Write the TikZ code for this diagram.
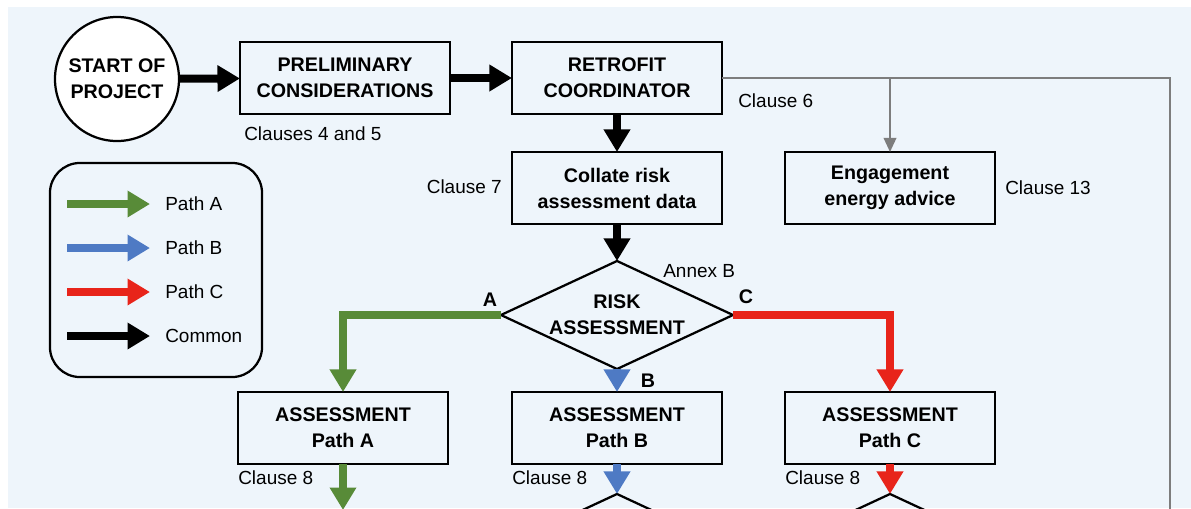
\documentclass[tikz,border=0pt]{standalone}
\usepackage{fontspec}
\setmainfont{Liberation Sans}
\usetikzlibrary{calc, arrows.meta, shapes.geometric}

\definecolor{panelblue}{RGB}{238,245,251}
\definecolor{pathgreen}{RGB}{88,139,56}
\definecolor{pathblue}{RGB}{78,122,196}
\definecolor{pathred}{RGB}{232,36,26}
\definecolor{linkgray}{RGB}{125,125,125}

\tikzset{
  stage/.style={draw, line width=1.6pt, minimum width=5.25cm, minimum height=1.8cm,
    align=center, inner sep=0pt, outer sep=0pt, font=\fontsize{14}{18.5}\selectfont\bfseries},
  decision/.style={diamond, aspect=2.15, draw, line width=1.6pt, minimum width=5.8cm, minimum height=2.7cm,
    align=center, inner sep=0pt, outer sep=0pt, font=\fontsize{14}{18.5}\selectfont\bfseries},
  note/.style={inner sep=0pt, font=\fontsize{13.5}{16}\selectfont},
  branch/.style={inner sep=0pt, font=\fontsize{14}{16}\selectfont\bfseries},
  flow/.style={line width=5.7pt, -{Triangle[width=18pt,length=16pt]}},
  link/.style={draw=linkgray, line width=1.1pt},
}

\begin{document}
\begin{tikzpicture}[x=0.025cm, y=-0.025cm]
  \useasboundingbox (0,0) rectangle (1191,508);
  \clip (0,0) rectangle (1191,508);
  \fill[panelblue] (8,7) rectangle (1191,508);

  % top row
  \node[circle, draw, line width=1.6pt, fill=white, minimum size=3.1cm, inner sep=0pt,
    outer sep=0pt, align=center, font=\fontsize{14}{18.5}\selectfont\bfseries]
    (start) at (117,79) {START OF\\PROJECT};
  \node[stage] (prelim) at (345,78) {PRELIMINARY\\CONSIDERATIONS};
  \node[stage] (retro) at (617,78) {RETROFIT\\COORDINATOR};
  \node[stage] (collate) at (617,188) {Collate risk\\assessment data};
  \node[stage] (engage) at (890,188) {Engagement\\energy advice};
  \node[decision] (risk) at (617,315) {RISK\\ASSESSMENT};

  % assessment boxes and the next diamonds
  \foreach \p/\x in {A/343, B/617, C/890}{
    \node[stage] (as\p) at (\x,428) {ASSESSMENT\\Path \p};
    \node[note, anchor=west] (cl8\p) at (\x-105,478) {Clause 8};
  }
  \node[decision] (riskB) at (617,548) {};
  \node[decision] (riskC) at (890,548) {};
  \coordinate (endA) at (343,510);

  % clause notes
  \node[note, anchor=west] (cl45) at (244,134) {Clauses 4 and 5};
  \node[note, anchor=west] (cl6) at (738,101) {Clause 6};
  \node[note, anchor=east] (cl7) at (502,187) {Clause 7};
  \node[note, anchor=west] (cl13) at (1005,188) {Clause 13};
  \node[note, anchor=west] (annex) at (663,271) {Annex B};
  \node[branch] (brA) at (490,300) {A};
  \node[branch] (brB) at (648,381) {B};
  \node[branch] (brC) at (746,297) {C};

  % common flow
  \draw[flow] (start) -- (prelim);
  \draw[flow] (prelim) -- (retro);
  \draw[flow] (retro) -- (collate);
  \draw[flow] (collate) -- (risk);

  % paths
  \draw[flow, draw=pathgreen] (risk.west) -| (asA.north);
  \draw[flow, draw=pathblue] (risk.south) -- (asB.north);
  \draw[flow, draw=pathred] (risk.east) -| (asC.north);
  \draw[flow, draw=pathgreen] (asA.south) -- (endA);
  \draw[flow, draw=pathblue] (asB.south) -- (riskB.north);
  \draw[flow, draw=pathred] (asC.south) -- (riskC.north);

  % coordinator links
  \coordinate (farend) at (1170,520);
  \draw[link] (retro.east) -| (farend);
  \draw[link, -{Triangle[width=9pt,length=10pt]}] (retro.east -| engage) -- (engage.north);

  % legend
  \node[draw, line width=1.6pt, rounded corners=0.75cm, minimum width=5.3cm,
    minimum height=5.35cm] (legend) at (156,270) {};
  \foreach \c/\t [count=\i] in {pathgreen/Path A, pathblue/Path B, pathred/Path C, black/Common}{
    \coordinate (keyS\i) at (67,160+44*\i);
    \coordinate (keyE\i) at (150,160+44*\i);
    \draw[flow, draw=\c] (keyS\i) -- (keyE\i);
    \node[note, anchor=west] (keyT\i) at (165,160+44*\i) {\t};
  }
\end{tikzpicture}
\end{document}
